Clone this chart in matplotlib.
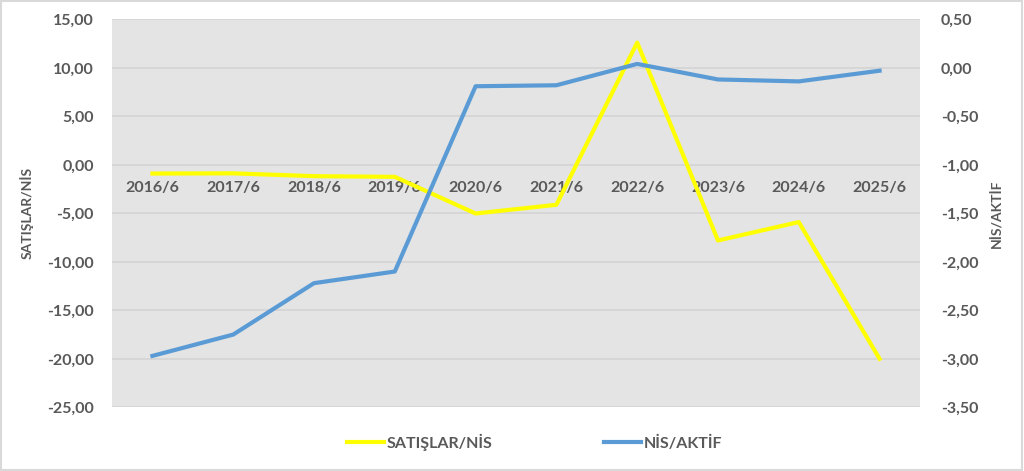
import matplotlib.pyplot as plt
from matplotlib.patches import Rectangle
from matplotlib.ticker import FuncFormatter

plt.rcParams['font.family'] = ['Lato', 'DejaVu Sans']

donem = ['2016/6', '2017/6', '2018/6', '2019/6', '2020/6', '2021/6',
         '2022/6', '2023/6', '2024/6', '2025/6']
satislar_nis = [-0.90, -0.88, -1.17, -1.24, -5.02, -4.12, 12.6, -7.8, -5.9, -20.0]
nis_aktif = [-2.97, -2.75, -2.22, -2.10, -0.19, -0.18, 0.04, -0.12, -0.14, -0.03]

gri = '#595959'
fig = plt.figure(figsize=(10.24, 4.71), dpi=100)
ax = fig.add_axes([0.1094, 0.1352, 0.7890, 0.8238])
ax2 = ax.twinx()

x = list(range(len(donem)))
l1, = ax.plot(x, satislar_nis, color='#FFFF00', lw=3, label='SATIŞLAR/NİS')
l2, = ax2.plot(x, nis_aktif, color='#5B9BD5', lw=3, label='NİS/AKTİF')

ax.set_facecolor('#E4E4E4')
ax.set_xlim(-0.5, 9.5)
ax.set_ylim(-25, 15)
ax.set_yticks(range(-25, 16, 5))
ax2.set_ylim(-3.5, 0.5)
ax2.set_yticks([-3.5, -3, -2.5, -2, -1.5, -1, -0.5, 0, 0.5])

fmt = FuncFormatter(lambda v, p: f'{v:.2f}'.replace('.', ','))
ax.yaxis.set_major_formatter(fmt)
ax2.yaxis.set_major_formatter(fmt)

ax.grid(axis='y', color='#D4D4D4', lw=1.2)
ax.set_axisbelow(True)

for a in (ax, ax2):
    for s in a.spines.values():
        s.set_visible(False)
    a.tick_params(length=0, labelsize=11.5, labelcolor=gri)
    for t in a.get_yticklabels():
        t.set_fontweight('bold')

ax.spines['bottom'].set_position(('data', 0))
ax.set_xticks(x)
ax.set_xticklabels(donem, fontsize=11.5, fontweight='bold', color=gri)
ax.tick_params(axis='x', pad=12)
ax.tick_params(axis='y', pad=13)
ax2.tick_params(axis='y', pad=15)

ax.set_ylabel('SATIŞLAR/NİS', fontsize=10, fontweight='bold', color=gri, labelpad=10)
ax2.set_ylabel('NİS/AKTİF', fontsize=10, fontweight='bold', color=gri, labelpad=8)

leg = fig.legend(handles=[l1, l2], loc='lower center', bbox_to_anchor=(0.522, 0.012),
                 ncol=2, frameon=False, handlelength=2.3,
                 handletextpad=0.15, columnspacing=7.0,
                 prop={'weight': 'bold', 'size': 11.5})
for t in leg.get_texts():
    t.set_color(gri)
    t.set_fontweight('bold')

fig.patches.append(Rectangle((0.001, 0.003), 0.997, 0.994, transform=fig.transFigure,
                             fill=False, edgecolor='#D9D9D9', lw=1.5))

fig.savefig('out.png', dpi=100)
